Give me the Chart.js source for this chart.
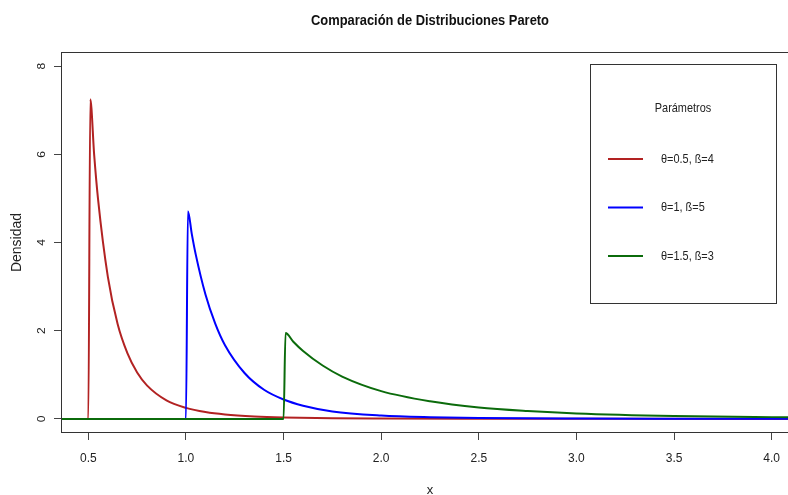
<!DOCTYPE html>
<html>
<head>
<meta charset="utf-8">
<title>Comparación de Distribuciones Pareto</title>
<script src="https://cdn.jsdelivr.net/npm/chart.js@4.4.0/dist/chart.umd.min.js"></script>
<style>
    body { margin: 0; background: #fff; }
    #wrap { width: 788px; height: 495px; overflow: hidden; }
</style>
</head>
<body>
<div id="wrap"><canvas id="pareto" width="820" height="495"></canvas></div>
<script>
// values
const xRed = [0, 0.5, 0.51, 0.53, 0.55, 0.6, 0.65, 0.7, 0.75, 0.8, 0.9, 1.0, 1.1, 1.2, 1.35, 1.5, 1.75, 2.0, 2.5, 3.0, 4.2];
const yRed = [0, 0, 7.25, 5.98, 4.97, 3.22, 2.15, 1.49, 1.05, 0.76, 0.42, 0.25, 0.155, 0.10, 0.056, 0.033, 0.015, 0.008, 0.003, 0.001, 0];

const xBlue = [0, 1.0, 1.01, 1.03, 1.05, 1.1, 1.15, 1.2, 1.3, 1.4, 1.5, 1.6, 1.75, 2.0, 2.25, 2.5, 3.0, 3.5, 4.2];
const yBlue = [0, 0, 4.71, 4.19, 3.73, 2.82, 2.16, 1.67, 1.04, 0.66, 0.44, 0.30, 0.17, 0.078, 0.039, 0.020, 0.007, 0.003, 0.001];

const xGreen = [0, 1.5, 1.51, 1.55, 1.6, 1.7, 1.8, 2.0, 2.25, 2.5, 2.75, 3.0, 3.5, 4.0, 4.2];
const yGreen = [0, 0, 1.95, 1.75, 1.54, 1.21, 0.96, 0.63, 0.40, 0.26, 0.18, 0.125, 0.067, 0.040, 0.033];

const seriesLabels = ['θ=0.5, ß=4', 'θ=1, ß=5', 'θ=1.5, ß=3'];
const xTickValues = [0.5, 1.0, 1.5, 2.0, 2.5, 3.0, 3.5, 4.0];
const yTickValues = [0, 2, 4, 6, 8];

const FONT = "'Liberation Sans', Arial, sans-serif";
Chart.defaults.font.family = FONT;
Chart.defaults.color = '#222';

const toPoints = (xs, ys) => xs.map((x, i) => ({ x: x, y: ys[i] }));

function lineSet(label, xs, ys, color, order) {
    return {
        label: label,
        data: toPoints(xs, ys),
        borderColor: color,
        backgroundColor: color,
        borderWidth: 2,
        pointRadius: 0,
        cubicInterpolationMode: 'monotone',
        fill: false,
        order: order
    };
}

// the reference text is a bit condensed, so squeeze it sideways
function narrowText(ctx, text, x, y, sx) {
    ctx.save();
    ctx.translate(x, y);
    ctx.scale(sx, 1);
    ctx.fillText(text, 0, 0);
    ctx.restore();
}

// title, box, rotated y labels and legend, drawn the R way
const rPlotDecor = {
    id: 'rPlotDecor',
    afterDraw(chart) {
        const ctx = chart.ctx;
        const ca = chart.chartArea;
        ctx.save();

        ctx.strokeStyle = '#333';
        ctx.lineWidth = 1;
        ctx.strokeRect(ca.left + 0.5, ca.top + 0.5, ca.right - ca.left - 1, ca.bottom - ca.top - 1);

        ctx.fillStyle = '#111';
        ctx.font = 'bold 15px ' + FONT;
        ctx.textAlign = 'center';
        ctx.textBaseline = 'middle';
        narrowText(ctx, 'Comparación de Distribuciones Pareto', (ca.left + ca.right) / 2, 21, 0.86);

        // y tick labels, rotated like R's las=0
        const yScale = chart.scales.y;
        ctx.font = '12px ' + FONT;
        ctx.fillStyle = '#222';
        yTickValues.forEach(v => {
            const py = yScale.getPixelForValue(v);
            ctx.save();
            ctx.translate(42, py);
            ctx.rotate(-Math.PI / 2);
            ctx.scale(1, 0.9);
            ctx.fillText(String(v), 0, 0);
            ctx.restore();
        });

        // legend box
        const lx = 590, ly = 64, lw = 186, lh = 239;
        ctx.strokeStyle = '#333';
        ctx.strokeRect(lx + 0.5, ly + 0.5, lw, lh);
        ctx.font = '13px ' + FONT;
        ctx.fillStyle = '#222';
        narrowText(ctx, 'Parámetros', 683, 108, 0.84);
        ctx.textAlign = 'left';
        chart.data.datasets.forEach((ds, i) => {
            const y = 159 + i * 48.5;
            ctx.strokeStyle = ds.borderColor;
            ctx.lineWidth = 2;
            ctx.beginPath();
            ctx.moveTo(608, y);
            ctx.lineTo(643, y);
            ctx.stroke();
            ctx.fillStyle = '#222';
            narrowText(ctx, ds.label, 661, y, 0.84);
        });
        ctx.restore();
    }
};

const tickGrid = {
    drawOnChartArea: false,
    drawTicks: true,
    tickLength: 7,
    color: '#444',
    lineWidth: 1
};

const paretoChart = new Chart(document.getElementById('pareto'), {
    type: 'line',
    data: {
        datasets: [
            lineSet(seriesLabels[0], xRed, yRed, '#B22222', 2),
            lineSet(seriesLabels[1], xBlue, yBlue, '#0000FF', 1),
            lineSet(seriesLabels[2], xGreen, yGreen, '#0B6B0B', 0)
        ]
    },
    options: {
        responsive: false,
        devicePixelRatio: 1,
        animation: false,
        events: [],
        layout: { padding: { top: 52, right: 21, left: 0, bottom: 0 } },
        plugins: {
            legend: { display: false },
            tooltip: { enabled: false },
            title: { display: false }
        },
        scales: {
            x: {
                type: 'linear',
                min: 0.36,
                max: 4.14,
                afterBuildTicks: s => { s.ticks = xTickValues.map(v => ({ value: v })); },
                afterFit: s => { s.height = 62; },
                grid: tickGrid,
                border: { display: false },
                ticks: {
                    callback: v => Number(v).toFixed(1),
                    font: { size: 12 },
                    color: '#222',
                    padding: 11,
                    maxRotation: 0,
                    autoSkip: false
                },
                title: {
                    display: true,
                    text: 'x',
                    font: { size: 13 },
                    color: '#222',
                    padding: { top: 0, bottom: -3 }
                }
            },
            y: {
                type: 'linear',
                min: -0.32,
                max: 8.32,
                afterBuildTicks: s => { s.ticks = yTickValues.map(v => ({ value: v })); },
                afterFit: s => { s.width = 61; },
                grid: tickGrid,
                border: { display: false },
                ticks: { display: false },
                title: {
                    display: true,
                    text: 'Densidad',
                    font: { size: 14 },
                    color: '#222',
                    padding: { top: 8.6, bottom: 0 }
                }
            }
        }
    },
    plugins: [rPlotDecor]
});
</script>
</body>
</html>
